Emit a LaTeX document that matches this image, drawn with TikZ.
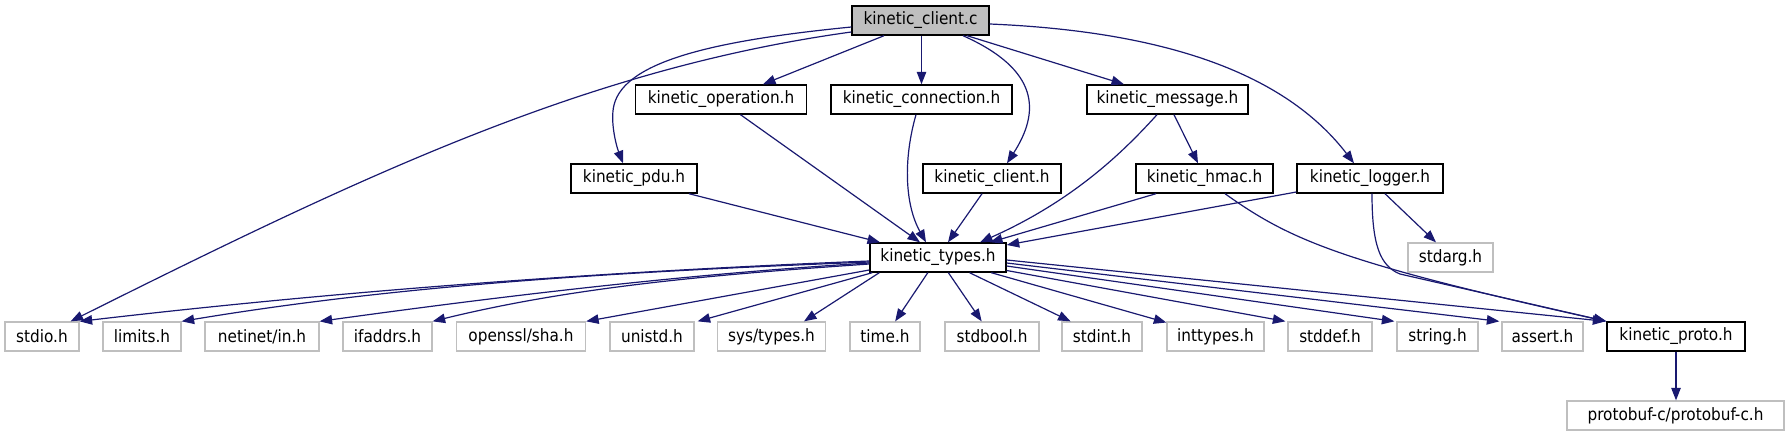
\documentclass[tikz,border=0pt]{standalone}
\usepackage{fontspec}
\setmainfont{DejaVu Sans Condensed}
\usetikzlibrary{arrows.meta}
\definecolor{edgec}{RGB}{25,25,112}
\definecolor{boxgray}{RGB}{191,191,191}
\begin{document}
\begin{tikzpicture}[x=1pt,y=-1pt,
  inc/.style={draw=black,line width=1.4pt,minimum height=29pt,inner sep=0pt,fill=white,font=\fontsize{17}{20}\selectfont},
  sys/.style={inc,draw=boxgray,line width=1.3pt},
  e/.style={draw=edgec,line width=1.2pt,-{Triangle[length=12.5pt,width=9.5pt]}}]
\useasboundingbox (0,0) rectangle (1789,436);
% row 1
\node[inc,fill=boxgray,minimum width=137pt] (root) at (920.5,20.5) {kinetic\_client.c};
% row 2
\node[inc,minimum width=171pt] (oper) at (721,99.5) {kinetic\_operation.h};
\node[inc,minimum width=181pt] (conn) at (921.5,99.5) {kinetic\_connection.h};
\node[inc,minimum width=161pt] (msg) at (1167.5,99.5) {kinetic\_message.h};
% row 3
\node[inc,minimum width=126pt] (pdu) at (634,178.5) {kinetic\_pdu.h};
\node[inc,minimum width=138pt] (clienth) at (992,178.5) {kinetic\_client.h};
\node[inc,minimum width=137pt] (hmac) at (1204.5,178.5) {kinetic\_hmac.h};
\node[inc,minimum width=146pt] (logger) at (1370,178.5) {kinetic\_logger.h};
% row 4
\node[inc,minimum width=136pt] (types) at (938,257.5) {kinetic\_types.h};
\node[sys,minimum width=85pt] (stdarg) at (1450.5,257.5) {stdarg.h};
% row 5
\node[sys,minimum width=74pt] (stdio) at (42,336.5) {stdio.h};
\node[sys,minimum width=78pt] (limits) at (142,336.5) {limits.h};
\node[sys,minimum width=114pt] (netinet) at (262,336.5) {netinet/in.h};
\node[sys,minimum width=89pt] (ifaddrs) at (387.5,336.5) {ifaddrs.h};
\node[sys,minimum width=129pt] (openssl) at (521,336.5) {openssl/sha.h};
\node[sys,minimum width=84pt] (unistd) at (652,336.5) {unistd.h};
\node[sys,minimum width=108pt] (systypes) at (771.5,336.5) {sys/types.h};
\node[sys,minimum width=70pt] (time) at (885,336.5) {time.h};
\node[sys,minimum width=94pt] (stdbool) at (992,336.5) {stdbool.h};
\node[sys,minimum width=80pt] (stdint) at (1102,336.5) {stdint.h};
\node[sys,minimum width=97pt] (inttypes) at (1215.5,336.5) {inttypes.h};
\node[sys,minimum width=84pt] (stddef) at (1330,336.5) {stddef.h};
\node[sys,minimum width=81pt] (string) at (1437.5,336.5) {string.h};
\node[sys,minimum width=81pt] (assert) at (1542.5,336.5) {assert.h};
\node[inc,minimum width=138pt] (proto) at (1676,336.5) {kinetic\_proto.h};
% row 6
\node[sys,minimum width=217pt] (protobuf) at (1675.5,415.5) {protobuf-c/protobuf-c.h};
% edges from root
\draw[e] ([shift={(0,11.5)}]root.west) .. controls (590,68) and (370,172) .. ([shift={(-9,0)}]stdio.north east);
\draw[e] ([shift={(0,6.5)}]root.west) .. controls (720,40) and (625,60) .. (614,105) .. controls (610,121) and (616,145) .. ([shift={(-11,0)}]pdu.north);
\draw[e] ([shift={(-36.5,0)}]root.south) -- ([shift={(42,0)}]oper.north);
\draw[e] (conn.north |- root.south) -- (conn.north);
\draw[e] ([shift={(42.5,0)}]root.south) .. controls (1040,70) and (1040,112) .. ([shift={(15,0)}]clienth.north);
\draw[e] ([shift={(46.5,0)}]root.south) -- ([shift={(-43.5,0)}]msg.north);
\draw[e] ([shift={(0,3.5)}]root.east) .. controls (1180,32) and (1290,80) .. ([shift={(-16,0)}]logger.north);
% second level
\draw[e] ([shift={(19.5,0)}]oper.south) -- ([shift={(-18,0)}]types.north);
\draw[e] ([shift={(-5.5,0)}]conn.south) .. controls (903,160) and (905,205) .. ([shift={(-12,0)}]types.north);
\draw[e] ([shift={(55,0)}]pdu.south) -- ([shift={(-58,0)}]types.north);
\draw[e] ([shift={(-10,0)}]clienth.south) -- ([shift={(10,0)}]types.north);
\draw[e] ([shift={(-10.5,0)}]msg.south) .. controls (1125,150) and (1075,200) .. ([shift={(42,0)}]types.north);
\draw[e] ([shift={(6.5,0)}]msg.south) -- ([shift={(-6.5,0)}]hmac.north);
\draw[e] ([shift={(-48.5,0)}]hmac.south) -- ([shift={(52,0)}]types.north);
\draw[e] ([shift={(20.5,0)}]hmac.south) .. controls (1290,240) and (1340,262) .. (proto.north west);
\draw[e] ([shift={(0,13.5)}]logger.west) -- ([shift={(0,-12.5)}]types.east);
\draw[e] ([shift={(15,0)}]logger.south) -- ([shift={(-14.5,0)}]stdarg.north);
\draw[e] ([shift={(2,0)}]logger.south) .. controls (1372,245) and (1380,266) .. (1400,274) -- (proto.north west);
% from kinetic_types.h
\draw[e] ([shift={(0,3.5)}]types.west) .. controls (607,271.5) and (345,290.4) .. (stdio.north east);
\draw[e] ([shift={(0,4.5)}]types.west) .. controls (641,271) and (412,283) .. (limits.north east);
\draw[e] ([shift={(0,5.5)}]types.west) .. controls (687,274) and (503,296) .. (netinet.north east);
\draw[e] ([shift={(0,6.5)}]types.west) .. controls (724,274) and (579,285.5) .. (ifaddrs.north east);
\draw[e] ([shift={(0,12.5)}]types.west) -- (openssl.north east);
\draw[e] ([shift={(3,0)}]types.south west) -- ([shift={(3,0)}]unistd.north east);
\draw[e] ([shift={(10,0)}]types.south west) -- ([shift={(32.5,0)}]systypes.north);
\draw[e] (types) -- (time);
\draw[e] (types) -- (stdbool);
\draw[e] (types) -- (stdint);
\draw[e] (types) -- (inttypes);
\draw[e] ([shift={(0,13)}]types.east) -- ([shift={(-2,0)}]stddef.north west);
\draw[e] ([shift={(0,8.5)}]types.east) -- ([shift={(-2,0)}]string.north west);
\draw[e] ([shift={(0,5.5)}]types.east) -- ([shift={(-2,0)}]assert.north west);
\draw[e] ([shift={(0,2.5)}]types.east) -- ([shift={(-1,0)}]proto.north west);
% kinetic_proto.h
\draw[e] (proto.south) -- (proto.south |- protobuf.north);
\end{tikzpicture}
\end{document}
